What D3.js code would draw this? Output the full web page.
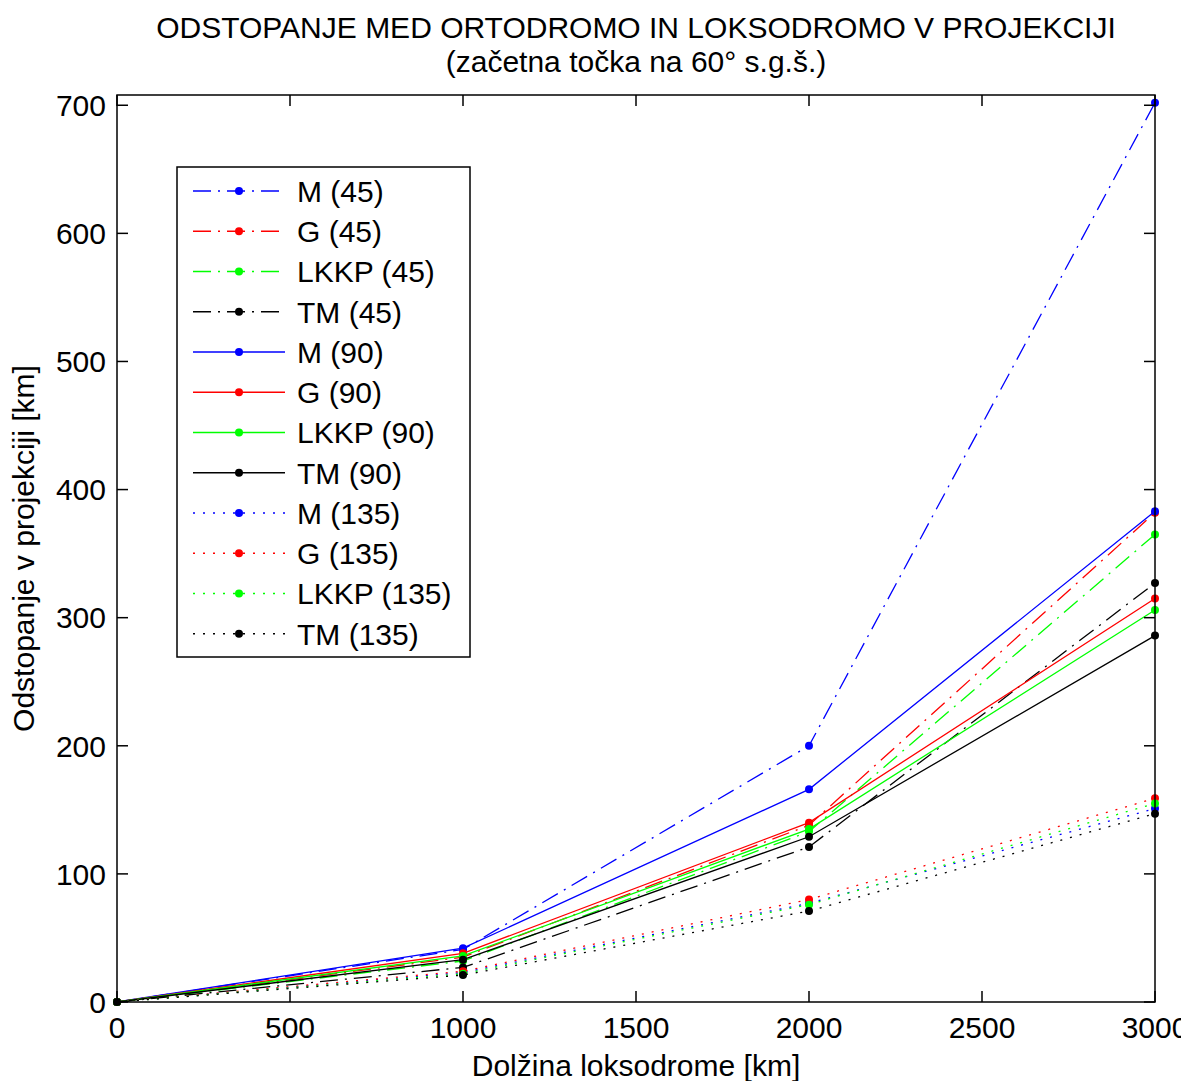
<!DOCTYPE html>
<html>
<head>
<meta charset="utf-8">
<script src="https://cdn.jsdelivr.net/npm/d3@7"></script>
<style>
  body { margin: 0; background: #fff; }
  svg text { font-family: "Liberation Sans", Arial, sans-serif; fill: #000; }
</style>
</head>
<body>
<svg id="chart" width="1181" height="1081"></svg>
<script>
const distance = [0, 1000, 2000, 3000];
const xTicks = [0, 500, 1000, 1500, 2000, 2500, 3000];
const yTicks = [0, 100, 200, 300, 400, 500, 600, 700];

const m45 = [0, 41, 200, 702];
const g45 = [0, 35, 138, 382];
const lkkp45 = [0, 32, 133, 365];
const tm45 = [0, 27, 121, 327];
const m90 = [0, 42, 166, 383];
const g90 = [0, 38, 140, 315];
const lkkp90 = [0, 36, 135, 306];
const tm90 = [0, 33, 129, 286];
const m135 = [0, 23, 77, 151];
const g135 = [0, 24, 80, 159];
const lkkp135 = [0, 22, 76, 155];
const tm135 = [0, 21, 71, 147];

const names = ["M (45)", "G (45)", "LKKP (45)", "TM (45)",
  "M (90)", "G (90)", "LKKP (90)", "TM (90)",
  "M (135)", "G (135)", "LKKP (135)", "TM (135)"];
const values = [m45, g45, lkkp45, tm45, m90, g90, lkkp90, tm90, m135, g135, lkkp135, tm135];
const colors = ["#0000ff", "#ff0000", "#00ff00", "#000000"];
const dashes = ["18,7,2,7", null, "2,8"];

const series = names.map((n, i) => ({
  name: n,
  color: colors[i % 4],
  dash: dashes[Math.floor(i / 4)],
  points: distance.map((d, j) => [d, values[i][j]])
}));

const margin = { top: 95, right: 26, bottom: 79, left: 117 };
const width = 1181 - margin.left - margin.right;
const height = 1081 - margin.top - margin.bottom;

const svg = d3.select("#chart");
const g = svg.append("g").attr("transform", `translate(${margin.left},${margin.top})`);

const x = d3.scaleLinear().domain([0, 3000]).range([0, width]);
const y = d3.scaleLinear().domain([0, 708]).range([height, 0]);

// lines
const line = d3.line().x(d => x(d[0])).y(d => y(d[1]));
series.forEach(s => {
  g.append("path")
    .datum(s.points)
    .attr("d", line)
    .attr("fill", "none")
    .attr("stroke", s.color)
    .attr("stroke-width", 1.3)
    .attr("stroke-dasharray", s.dash);
  g.selectAll(null)
    .data(s.points)
    .enter()
    .append("circle")
    .attr("cx", d => x(d[0]))
    .attr("cy", d => y(d[1]))
    .attr("r", 4)
    .attr("fill", s.color);
});

// box and ticks
g.append("rect")
  .attr("width", width).attr("height", height)
  .attr("fill", "none").attr("stroke", "#000").attr("stroke-width", 1.5);

const tickLen = 11;
xTicks.forEach(t => {
  g.append("line").attr("x1", x(t)).attr("x2", x(t)).attr("y1", height).attr("y2", height - tickLen)
    .attr("stroke", "#000").attr("stroke-width", 1.5);
  g.append("line").attr("x1", x(t)).attr("x2", x(t)).attr("y1", 0).attr("y2", tickLen)
    .attr("stroke", "#000").attr("stroke-width", 1.5);
  g.append("text").attr("x", x(t)).attr("y", height + 36)
    .attr("text-anchor", "middle").style("font-size", "30px").text(t);
});
yTicks.forEach(t => {
  g.append("line").attr("x1", 0).attr("x2", tickLen).attr("y1", y(t)).attr("y2", y(t))
    .attr("stroke", "#000").attr("stroke-width", 1.5);
  g.append("line").attr("x1", width).attr("x2", width - tickLen).attr("y1", y(t)).attr("y2", y(t))
    .attr("stroke", "#000").attr("stroke-width", 1.5);
  g.append("text").attr("x", -11).attr("y", y(t)).attr("dy", "0.36em")
    .attr("text-anchor", "end").style("font-size", "30px").text(t);
});

// titles
svg.append("text").attr("x", margin.left + width / 2).attr("y", 38)
  .attr("text-anchor", "middle").style("font-size", "30px")
  .text("ODSTOPANJE MED ORTODROMO IN LOKSODROMO V PROJEKCIJI");
svg.append("text").attr("x", margin.left + width / 2).attr("y", 72)
  .attr("text-anchor", "middle").style("font-size", "30px")
  .text("(začetna točka na 60° s.g.š.)");
svg.append("text").attr("x", margin.left + width / 2).attr("y", 1076)
  .attr("text-anchor", "middle").style("font-size", "30px")
  .text("Dolžina loksodrome [km]");
svg.append("text")
  .attr("transform", `translate(34,${margin.top + height / 2}) rotate(-90)`)
  .attr("text-anchor", "middle").style("font-size", "30px")
  .text("Odstopanje v projekciji [km]");

// legend
const legend = svg.append("g").attr("transform", "translate(177,167)");
legend.append("rect").attr("width", 293).attr("height", 490)
  .attr("fill", "#fff").attr("stroke", "#000").attr("stroke-width", 1.5);
series.forEach((s, i) => {
  const ly = 24 + i * 40.25;
  legend.append("line").attr("x1", 16).attr("x2", 108).attr("y1", ly).attr("y2", ly)
    .attr("stroke", s.color).attr("stroke-width", 1.3).attr("stroke-dasharray", s.dash);
  legend.append("circle").attr("cx", 62).attr("cy", ly).attr("r", 4).attr("fill", s.color);
  legend.append("text").attr("x", 120).attr("y", ly).attr("dy", "0.36em")
    .style("font-size", "30px").text(s.name);
});
</script>
</body>
</html>
